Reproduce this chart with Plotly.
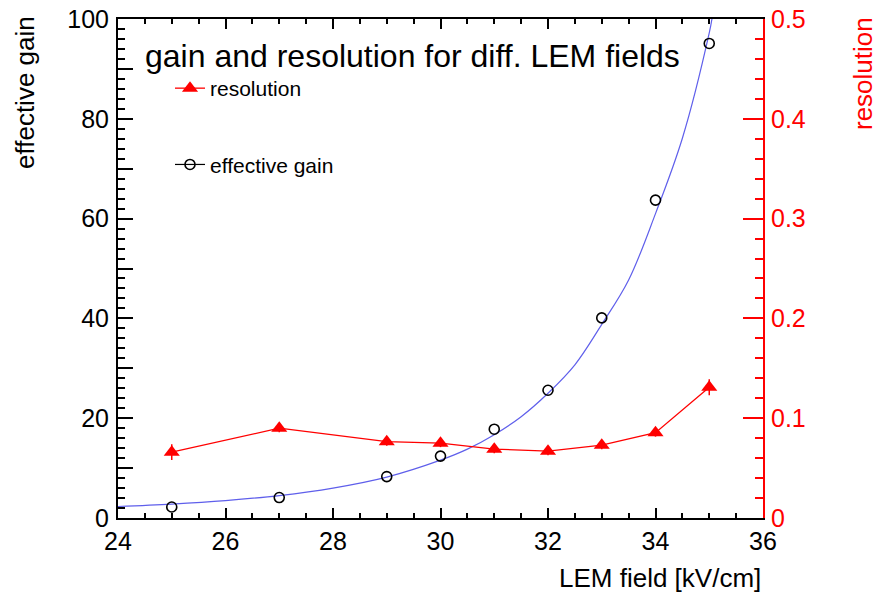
import plotly.graph_objects as go

# LEM field settings [kV/cm]
field = [25, 27, 29, 30, 31, 32, 33, 34, 35]

# measured effective gain at each field
gain = [2.2, 4.1, 8.3, 12.4, 17.8, 25.6, 40.1, 63.7, 95.1]

# energy resolution (sigma/E) and its uncertainty
resolution = [0.066, 0.090, 0.0765, 0.075, 0.069, 0.067, 0.073, 0.0855, 0.131]
resolution_err = [0.008, 0.004, 0.004, 0.004, 0.004, 0.004, 0.004, 0.004, 0.008]

# exponential fit of the gain curve, sampled along the field axis
fit_field = [24, 25, 26, 27, 28, 29, 30, 30.5, 31, 31.5, 32, 32.5, 33, 33.5,
             34, 34.5, 35, 35.05]
fit_gain = [2.3, 2.8, 3.5, 4.5, 6.0, 8.2, 11.6, 13.8, 16.7, 20.3, 25.0, 30.7,
            38.8, 47.7, 61.0, 76.1, 97.2, 100.0]

gain_ticks = [0, 10, 20, 30, 40, 50, 60, 70, 80, 90, 100]
gain_labels = ["0", "", "20", "", "40", "", "60", "", "80", "", "100"]
field_ticks = [24, 26, 28, 30, 32, 34, 36]

FONT = "Liberation Sans, Arial, Helvetica, sans-serif"
RED = "#ff0000"
BLUE = "rgb(95,95,235)"

# plot frame in pixels
W, H = 878, 594
L, R, T, B = 118, 763, 19, 518


def px_x(p):
    return (p - L) / (R - L)


def px_y(p):
    return (B - p) / (B - T)


fig = go.Figure()

fig.add_trace(go.Scatter(
    x=fit_field, y=fit_gain, mode="lines",
    line=dict(color=BLUE, width=1.2, shape="spline", smoothing=1.0),
    showlegend=False, hoverinfo="skip",
))

fig.add_trace(go.Scatter(
    x=field, y=gain, mode="markers",
    marker=dict(symbol="circle-open", size=10, color="black",
                line=dict(width=1.6, color="black")),
    showlegend=False,
))

# legend entry for the gain points (line + marker)
fig.add_trace(go.Scatter(
    x=[None], y=[None], mode="lines+markers", name="effective gain",
    line=dict(color="black", width=1.2),
    marker=dict(symbol="circle-open", size=10, color="black",
                line=dict(width=1.6, color="black")),
    legendgroup="g", legendrank=2,
))

fig.add_trace(go.Scatter(
    x=field, y=resolution, mode="lines+markers", name="resolution",
    yaxis="y2",
    line=dict(color=RED, width=1.3),
    marker=dict(symbol="triangle-up", size=14, color=RED),
    error_y=dict(type="data", array=resolution_err, color=RED,
                 thickness=1.5, width=0),
    legendgroup="r", legendrank=1,
))

fig.update_layout(
    width=W, height=H,
    margin=dict(l=L, r=W - R, t=T, b=H - B, pad=0, autoexpand=False),
    paper_bgcolor="white", plot_bgcolor="white",
    font=dict(family=FONT, color="black", size=25),
    showlegend=True,
    legend=dict(
        x=px_x(170), y=px_y(68), xanchor="left", yanchor="top",
        bgcolor="rgba(0,0,0,0)", borderwidth=0,
        font=dict(family=FONT, size=21, color="black"),
        traceorder="grouped", tracegroupgap=46,
    ),
    xaxis=dict(
        range=[24, 36], tickvals=field_ticks, automargin=False,
        ticks="inside", ticklen=10, tickwidth=1.5, tickcolor="black",
        minor=dict(dtick=0.5, ticks="inside", ticklen=5, tickwidth=1.5,
                   tickcolor="black"),
        showline=True, linecolor="black", linewidth=2, mirror="ticks",
        showgrid=False, zeroline=False,
        tickfont=dict(family=FONT, size=25, color="black"),
        ticklabelstandoff=0,
    ),
    yaxis=dict(
        range=[0, 100], tickvals=gain_ticks, ticktext=gain_labels,
        automargin=False,
        ticks="inside", ticklen=15, tickwidth=1.5, tickcolor="black",
        minor=dict(dtick=2, ticks="inside", ticklen=7, tickwidth=1.5,
                   tickcolor="black"),
        showline=True, linecolor="black", linewidth=2,
        showgrid=False, zeroline=False,
        tickfont=dict(family=FONT, size=25, color="black"),
        ticklabelstandoff=2,
    ),
    yaxis2=dict(
        range=[0, 0.5], dtick=0.1, overlaying="y", side="right",
        automargin=False,
        ticks="inside", ticklen=20, tickwidth=1.5, tickcolor=RED,
        minor=dict(dtick=0.02, ticks="inside", ticklen=8, tickwidth=1.5,
                   tickcolor=RED),
        showline=True, linecolor=RED, linewidth=2,
        showgrid=False, zeroline=False,
        tickfont=dict(family=FONT, size=25, color=RED),
        ticklabelstandoff=1,
    ),
)

# title and axis titles
fig.add_annotation(
    text="gain and resolution for diff. LEM fields",
    x=px_x(143), y=px_y(56), xref="paper", yref="paper",
    xanchor="left", yanchor="middle", showarrow=False,
    font=dict(family=FONT, size=32, color="black"),
)
fig.add_annotation(
    text="effective gain", textangle=-90,
    x=px_x(25), y=px_y(92), xref="paper", yref="paper",
    xanchor="center", yanchor="middle", showarrow=False,
    font=dict(family=FONT, size=26, color="black"),
)
fig.add_annotation(
    text="resolution", textangle=-90,
    x=px_x(863), y=px_y(74), xref="paper", yref="paper",
    xanchor="center", yanchor="middle", showarrow=False,
    font=dict(family=FONT, size=26, color=RED),
)
fig.add_annotation(
    text="LEM field [kV/cm]",
    x=px_x(660), y=px_y(578), xref="paper", yref="paper",
    xanchor="center", yanchor="middle", showarrow=False,
    font=dict(family=FONT, size=26, color="black"),
)

fig.write_html("out.html")
